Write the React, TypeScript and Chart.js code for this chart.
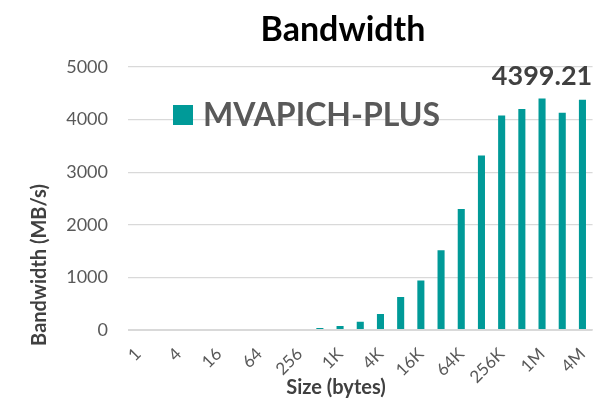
import React, { useEffect, useRef } from "react";
import { Chart, registerables } from "chart.js";

Chart.register(...registerables);

const sizes = ["1", "2", "4", "8", "16", "32", "64", "128", "256", "512", "1K", "2K", "4K", "8K", "16K", "32K", "64K", "128K", "256K", "512K", "1M", "2M", "4M"];
const bandwidth = [0.2, 0.4, 0.8, 1.5, 3.1, 4.2, 6.4, 10.1, 18.6, 38.2, 76.5, 158.3, 304.6, 626.1, 941.7, 1518.4, 2301.2, 3318.9, 4079.6, 4203.4, 4399.21, 4131.5, 4377.8];
const yTickValues = [0, 1000, 2000, 3000, 4000, 5000];
const seriesName = "MVAPICH-PLUS";
const chartTitle = "Bandwidth";
const xTitle = "Size (bytes)";
const yTitle = "Bandwidth (MB/s)";
const peakLabel = "4399.21";

const TEAL = "#009a98";
const FONT = "Lato, 'Open Sans', sans-serif";

export default function App() {
  const ref = useRef<HTMLCanvasElement | null>(null);

  useEffect(() => {
    const canvas = ref.current;
    if (!canvas) return;

    const textPlugin = {
      id: "customText",
      afterDraw(chart: any) {
        const ctx = chart.ctx as CanvasRenderingContext2D;
        ctx.save();
        // Category axis line drawn over the bars' feet
        const a = chart.chartArea;
        const y0 = chart.scales.y.getPixelForValue(0);
        ctx.fillStyle = "#d9d9d9";
        ctx.fillRect(a.left, Math.floor(y0) - 1, a.right - a.left, 2);

        // Title
        ctx.font = `bold 34px ${FONT}`;
        ctx.fillStyle = "#000000";
        ctx.textAlign = "center";
        ctx.textBaseline = "middle";
        ctx.fillText(chartTitle, 343, 30);

        // Legend inside plot
        ctx.fillStyle = TEAL;
        ctx.fillRect(173, 105, 20, 20);
        ctx.font = `bold 32px ${FONT}`;
        ctx.fillStyle = "#595959";
        ctx.textAlign = "left";
        ctx.textBaseline = "middle";
        ctx.fillText(seriesName, 203, 116);

        // Peak data label
        const meta = chart.getDatasetMeta(0);
        let peak = 0;
        bandwidth.forEach((v, i) => {
          if (v > bandwidth[peak]) peak = i;
        });
        const el = meta.data[peak];
        ctx.font = `bold 27px ${FONT}`;
        ctx.fillStyle = "#404040";
        ctx.textAlign = "center";
        ctx.textBaseline = "middle";
        ctx.fillText(peakLabel, el.x, el.y - 22);

        // X axis title
        ctx.font = `bold 20px ${FONT}`;
        ctx.fillStyle = "#404040";
        ctx.textAlign = "center";
        ctx.textBaseline = "middle";
        ctx.fillText(xTitle, 336, 388);

        // Y axis title
        ctx.translate(40, 265);
        ctx.rotate(-Math.PI / 2);
        ctx.fillText(yTitle, 0, 0);
        ctx.restore();
      },
    };

    const chart = new Chart(canvas, {
      type: "bar",
      data: {
        labels: sizes,
        datasets: [
          {
            label: seriesName,
            data: bandwidth,
            backgroundColor: TEAL,
            borderWidth: 0,
            inflateAmount: 0,
            categoryPercentage: 1,
            barPercentage: 0.35,
          },
        ],
      },
      options: {
        animation: false,
        responsive: false,
        devicePixelRatio: 1,
        layout: { padding: { top: 67, right: 6, left: 0, bottom: 0 } },
        plugins: {
          legend: { display: false },
          title: { display: false },
          tooltip: { enabled: false },
        },
        scales: {
          x: {
            grid: { display: false },
            border: { display: false },
            ticks: {
              autoSkip: false,
              maxRotation: 45,
              minRotation: 45,
              padding: 6,
              color: "#595959",
              font: { family: FONT, size: 17 },
              callback: (_v: any, i: number) => (i % 2 === 0 ? sizes[i] : ""),
            },
            afterFit: (scale: any) => {
              scale.height = 71;
            },
          },
          y: {
            min: 0,
            max: 5000,
            border: { display: false },
            grid: { color: "#d9d9d9", lineWidth: 1.3, drawTicks: false },
            afterBuildTicks: (scale: any) => {
              scale.ticks = yTickValues.map((v) => ({ value: v }));
            },
            ticks: {
              padding: 20,
              color: "#595959",
              font: { family: FONT, size: 18 },
              callback: (v: any) => String(v),
            },
            afterFit: (scale: any) => {
              scale.width = 128;
            },
          },
        },
      },
      plugins: [textPlugin],
    });

    return () => chart.destroy();
  }, []);

  return (
    <div style={{ position: "absolute", left: 0, top: 0, width: 603, height: 401, background: "#ffffff" }}>
      <canvas ref={ref} width={603} height={401} />
    </div>
  );
}
